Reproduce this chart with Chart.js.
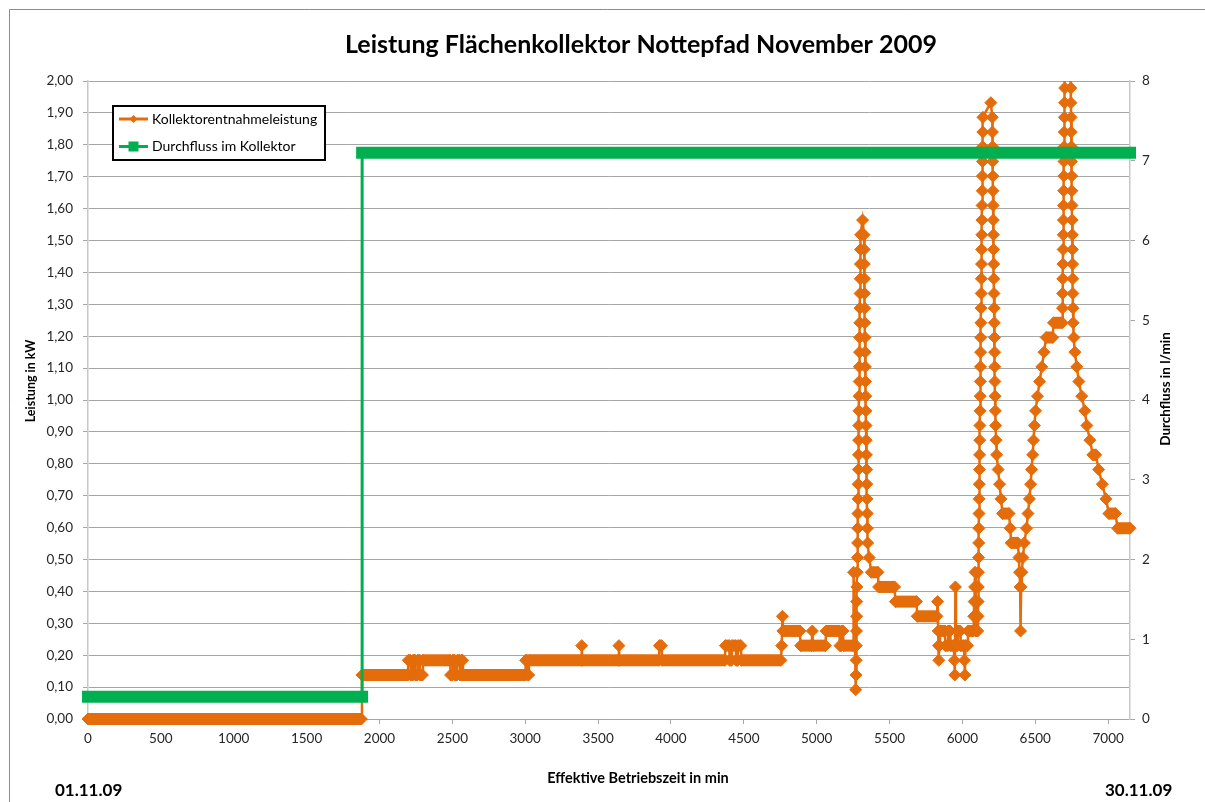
<!DOCTYPE html>
<html>
<head>
<meta charset="utf-8">
<title>Leistung Flächenkollektor Nottepfad November 2009</title>
<script src="https://cdn.jsdelivr.net/npm/chart.js@4.4.0/dist/chart.umd.min.js"></script>
<style>
  html, body { margin: 0; padding: 0; background: #ffffff; }
  #wrap { position: relative; width: 1205px; height: 802px; }
</style>
</head>
<body>
<div id="wrap"><canvas id="leistung-chart"></canvas></div>
<script>
// Kollektorentnahmeleistung: [Betriebszeit in min, Leistung in kW]
var leistungPunkte = [
  [0, 0], [1876, 0],
  [1880, 0.138], [2195, 0.138],
  [2198, 0.184], [2212, 0.184], [2215, 0.138], [2228, 0.138], [2231, 0.184], [2244, 0.184],
  [2247, 0.138], [2260, 0.138], [2263, 0.184], [2276, 0.184], [2279, 0.138], [2295, 0.138],
  [2298, 0.184], [2485, 0.184],
  [2488, 0.138], [2500, 0.138], [2503, 0.184], [2516, 0.184], [2519, 0.138], [2532, 0.138],
  [2535, 0.184], [2550, 0.184], [2553, 0.138], [2560, 0.138], [2563, 0.184], [2570, 0.184],
  [2573, 0.138], [3000, 0.138],
  [3003, 0.184], [3012, 0.184], [3015, 0.138], [3024, 0.138], [3027, 0.184],
  [3385, 0.184], [3388, 0.23], [3391, 0.184],
  [3640, 0.184], [3643, 0.23], [3646, 0.184],
  [3918, 0.184], [3921, 0.23], [3935, 0.23], [3938, 0.184],
  [4370, 0.184], [4374, 0.23], [4400, 0.23], [4403, 0.184], [4415, 0.184], [4418, 0.23],
  [4445, 0.23], [4448, 0.184], [4458, 0.184], [4461, 0.23], [4480, 0.23], [4483, 0.184],
  [4755, 0.184], [4760, 0.23], [4765, 0.322], [4768, 0.276], [4885, 0.276],
  [4890, 0.23], [4965, 0.23], [4970, 0.276], [4976, 0.23], [5060, 0.23],
  [5065, 0.276], [5155, 0.276], [5160, 0.23], [5168, 0.23], [5172, 0.276], [5180, 0.276],
  [5184, 0.23], [5250, 0.23],
  [5253, 0.46], [5268, 0.092], [5270, 0.138], [5271, 0.184], [5272, 0.23], [5273, 0.276],
  [5274, 0.322], [5275, 0.368], [5276, 0.414], [5278, 0.46],
  [5280, 0.506], [5281, 0.552], [5282, 0.598], [5283, 0.644], [5284, 0.69], [5285, 0.736],
  [5286, 0.782], [5287, 0.828], [5288, 0.874], [5289, 0.92], [5290, 0.966], [5291, 1.012],
  [5292, 1.058], [5293, 1.104], [5294, 1.15], [5295, 1.196], [5296, 1.242], [5297, 1.288],
  [5298, 1.334], [5299, 1.38], [5300, 1.426], [5301, 1.472], [5302, 1.518],
  [5315, 1.564],
  [5325, 1.518], [5326, 1.472], [5327, 1.426], [5328, 1.38], [5329, 1.334], [5330, 1.288],
  [5331, 1.242], [5332, 1.196], [5333, 1.15], [5334, 1.104], [5335, 1.058], [5337, 1.012],
  [5338, 0.966], [5339, 0.92], [5340, 0.874], [5341, 0.828], [5343, 0.782], [5344, 0.736],
  [5345, 0.69], [5347, 0.644], [5348, 0.598], [5350, 0.552], [5360, 0.506],
  [5375, 0.46], [5420, 0.46],
  [5425, 0.414], [5535, 0.414],
  [5540, 0.368], [5685, 0.368],
  [5690, 0.322], [5825, 0.322],
  [5830, 0.368], [5834, 0.276], [5836, 0.23], [5838, 0.184], [5842, 0.23], [5846, 0.276], [5880, 0.276],
  [5883, 0.23], [5900, 0.23], [5903, 0.276], [5915, 0.276], [5918, 0.23], [5940, 0.23],
  [5945, 0.184], [5948, 0.138], [5952, 0.414], [5956, 0.23], [5965, 0.23], [5968, 0.276],
  [5985, 0.276], [5988, 0.23], [6010, 0.23], [6014, 0.184], [6017, 0.138], [6021, 0.23],
  [6035, 0.23], [6038, 0.276], [6075, 0.276],
  [6078, 0.322], [6081, 0.368], [6084, 0.414], [6087, 0.46], [6092, 0.276], [6105, 0.276],
  [6107, 0.322], [6108, 0.368], [6109, 0.414], [6110, 0.46], [6111, 0.506], [6112, 0.552],
  [6113, 0.598], [6114, 0.644], [6115, 0.69], [6116, 0.736], [6117, 0.782], [6118, 0.828],
  [6119, 0.874], [6120, 0.92], [6121, 0.966], [6122, 1.012], [6123, 1.058], [6124, 1.104],
  [6125, 1.15], [6126, 1.196], [6127, 1.242], [6128, 1.288], [6129, 1.334], [6130, 1.38],
  [6131, 1.426], [6132, 1.472], [6133, 1.518], [6134, 1.564], [6135, 1.61], [6136, 1.656],
  [6137, 1.702], [6138, 1.748], [6139, 1.794], [6140, 1.84], [6141, 1.886],
  [6195, 1.932],
  [6205, 1.886], [6206, 1.84], [6207, 1.794], [6208, 1.748], [6209, 1.702], [6210, 1.656],
  [6211, 1.61], [6212, 1.564], [6213, 1.518], [6214, 1.472], [6215, 1.426], [6216, 1.38],
  [6217, 1.334], [6218, 1.288], [6219, 1.242], [6220, 1.196], [6221, 1.15], [6222, 1.104],
  [6223, 1.058], [6224, 1.012], [6226, 0.966], [6228, 0.92], [6231, 0.874], [6235, 0.828],
  [6245, 0.782], [6255, 0.736], [6265, 0.69], [6275, 0.644], [6320, 0.644], [6328, 0.598],
  [6335, 0.552], [6380, 0.552], [6388, 0.506], [6392, 0.46], [6396, 0.414], [6399, 0.276],
  [6403, 0.414], [6408, 0.46], [6415, 0.506], [6425, 0.552], [6440, 0.598], [6450, 0.644],
  [6460, 0.69], [6468, 0.736], [6475, 0.782], [6482, 0.828], [6488, 0.874], [6494, 0.92],
  [6502, 0.966], [6515, 1.012], [6530, 1.058], [6545, 1.104], [6560, 1.15], [6575, 1.196],
  [6620, 1.196], [6625, 1.242], [6685, 1.242],
  [6687, 1.288], [6688, 1.334], [6689, 1.38], [6690, 1.426], [6691, 1.472], [6692, 1.518],
  [6693, 1.564], [6694, 1.61], [6695, 1.656], [6696, 1.702], [6697, 1.748], [6698, 1.794],
  [6699, 1.84], [6700, 1.886], [6701, 1.932], [6702, 1.978], [6705, 2.07],
  [6720, 2.2],
  [6740, 2.07], [6744, 1.978], [6745, 1.932], [6746, 1.886], [6747, 1.84], [6748, 1.794],
  [6749, 1.748], [6750, 1.702], [6751, 1.656], [6752, 1.61], [6753, 1.564], [6754, 1.518],
  [6755, 1.472], [6756, 1.426], [6757, 1.38], [6758, 1.334], [6759, 1.288], [6760, 1.242],
  [6765, 1.196], [6772, 1.15], [6785, 1.104], [6799, 1.058], [6819, 1.012], [6840, 0.966],
  [6854, 0.92], [6875, 0.874], [6895, 0.828], [6915, 0.828], [6935, 0.782], [6960, 0.736],
  [6985, 0.69], [7005, 0.644], [7050, 0.644], [7065, 0.598], [7150, 0.598]
];

// Durchfluss im Kollektor: [Betriebszeit in min, l/min]
var durchflussPunkte = [
  [0, 0.28], [1881, 0.28], [1881, 7.1], [7150, 7.1]
];

var zeitTicks = [0, 500, 1000, 1500, 2000, 2500, 3000, 3500, 4000, 4500, 5000, 5500, 6000, 6500, 7000];
var xAchseMax = 7150;
var leistungMax = 2;
var durchflussMax = 8;
var datumStart = '01.11.09';
var datumEnde = '30.11.09';

var orange = '#E46C0A';
var gruen = '#00B050';
var schrift = 'Lato, "Open Sans", sans-serif';

function toXY(list) {
  return list.map(function (p) { return { x: p[0], y: p[1] }; });
}

// Titles, axis captions, dates, legend and frame drawn straight onto the canvas
var beschriftung = {
  id: 'beschriftung',
  afterDraw: function (chart) {
    var ctx = chart.ctx;
    ctx.save();

    // outer frame
    ctx.strokeStyle = '#8c8c8c';
    ctx.lineWidth = 1;
    ctx.beginPath();
    ctx.moveTo(9.5, 802);
    ctx.lineTo(9.5, 9.5);
    ctx.lineTo(1205, 9.5);
    ctx.stroke();

    ctx.fillStyle = '#000';
    ctx.textBaseline = 'middle';
    ctx.textAlign = 'center';
    ctx.font = 'bold 25px ' + schrift;
    ctx.fillText('Leistung Flächenkollektor Nottepfad November 2009', 641, 45);

    ctx.font = 'bold 14.5px ' + schrift;
    ctx.fillText('Effektive Betriebszeit in min', 638, 778);

    ctx.font = 'bold 12.5px ' + schrift;
    ctx.save();
    ctx.translate(31, 381);
    ctx.rotate(-Math.PI / 2);
    ctx.fillText('Leistung in kW', 0, 0);
    ctx.restore();

    ctx.font = 'bold 13.5px ' + schrift;
    ctx.save();
    ctx.translate(1166, 389);
    ctx.rotate(-Math.PI / 2);
    ctx.fillText('Durchfluss in l/min', 0, 0);
    ctx.restore();

    ctx.font = 'bold 17px ' + schrift;
    ctx.textAlign = 'left';
    ctx.fillText(datumStart, 55, 791);
    ctx.fillText(datumEnde, 1105, 791);

    // legend box
    ctx.fillStyle = '#fff';
    ctx.fillRect(113, 106, 212, 54);
    ctx.lineWidth = 2;
    ctx.strokeStyle = '#000';
    ctx.strokeRect(113, 106, 212, 54);

    ctx.lineWidth = 3;
    ctx.strokeStyle = orange;
    ctx.beginPath();
    ctx.moveTo(119, 119);
    ctx.lineTo(148, 119);
    ctx.stroke();
    ctx.fillStyle = orange;
    ctx.beginPath();
    ctx.moveTo(133.5, 115);
    ctx.lineTo(137.5, 119);
    ctx.lineTo(133.5, 123);
    ctx.lineTo(129.5, 119);
    ctx.closePath();
    ctx.fill();

    ctx.strokeStyle = gruen;
    ctx.beginPath();
    ctx.moveTo(119, 146.5);
    ctx.lineTo(148, 146.5);
    ctx.stroke();
    ctx.fillStyle = gruen;
    ctx.fillRect(128.5, 141.5, 10, 10);

    ctx.fillStyle = '#000';
    ctx.font = '14px ' + schrift;
    ctx.fillText('Kollektorentnahmeleistung', 152, 119);
    ctx.fillText('Durchfluss im Kollektor', 152, 146.5);

    ctx.restore();
  }
};

function createLeistungChart() {
  var ctx = document.getElementById('leistung-chart').getContext('2d');

  return new Chart(ctx, {
    type: 'line',
    data: {
      datasets: [{
        label: 'Durchfluss im Kollektor',
        data: toXY(durchflussPunkte),
        yAxisID: 'y2',
        order: 0,
        borderColor: gruen,
        backgroundColor: gruen,
        borderWidth: 3,
        borderCapStyle: 'square',
        pointRadius: 0,
        tension: 0,
        clip: { left: 8, right: 8, top: 0, bottom: 0 },
        segment: {
          // flat runs are a solid band of square markers, the step is a thin line
          borderWidth: function (c) { return c.p0.parsed.y === c.p1.parsed.y ? 12 : 3; }
        }
      }, {
        label: 'Kollektorentnahmeleistung',
        data: toXY(leistungPunkte),
        yAxisID: 'y',
        order: 1,
        borderColor: orange,
        backgroundColor: orange,
        borderWidth: 2.5,
        pointStyle: 'rectRot',
        pointRadius: 6,
        pointBorderWidth: 1,
        pointBackgroundColor: orange,
        pointBorderColor: orange,
        tension: 0,
        clip: { left: 8, right: 8, top: 0, bottom: 8 },
        segment: {
          borderWidth: function (c) { return c.p0.parsed.y === c.p1.parsed.y ? 12 : 2.5; }
        }
      }]
    },
    options: {
      responsive: true,
      maintainAspectRatio: false,
      animation: false,
      layout: { padding: { top: 81, left: 0, right: 0, bottom: 0 } },
      scales: {
        x: {
          type: 'linear',
          position: 'bottom',
          min: 0,
          max: xAchseMax,
          afterFit: function (s) { s.height = 83; },
          afterBuildTicks: function (s) {
            s.ticks = zeitTicks.map(function (v) { return { value: v }; });
          },
          border: { color: '#a6a6a6', width: 1 },
          grid: { drawOnChartArea: false, tickLength: 5, color: '#a6a6a6' },
          ticks: {
            autoSkip: false,
            maxRotation: 0,
            padding: 7,
            color: '#262626',
            font: { family: schrift, size: 13.5 },
            callback: function (v) { return String(v); }
          }
        },
        y: {
          position: 'left',
          min: 0,
          max: leistungMax,
          afterFit: function (s) { s.width = 88; },
          border: { color: '#c8c8c8', width: 1.5 },
          grid: { color: '#a6a6a6', tickLength: 5 },
          ticks: {
            stepSize: 0.1,
            padding: 10,
            color: '#262626',
            font: { family: schrift, size: 13.5 },
            callback: function (v) { return v.toFixed(2).replace('.', ','); }
          }
        },
        y2: {
          position: 'right',
          min: 0,
          max: durchflussMax,
          afterFit: function (s) { s.width = 75; },
          border: { color: '#c8c8c8', width: 1.5 },
          grid: { drawOnChartArea: false, tickLength: 5, color: '#a6a6a6' },
          ticks: {
            stepSize: 1,
            padding: 7,
            color: '#262626',
            font: { family: schrift, size: 13.5 }
          }
        }
      },
      plugins: {
        legend: { display: false },
        tooltip: { enabled: false }
      }
    },
    plugins: [beschriftung]
  });
}

document.addEventListener('DOMContentLoaded', function () {
  createLeistungChart();
});
</script>
</body>
</html>
